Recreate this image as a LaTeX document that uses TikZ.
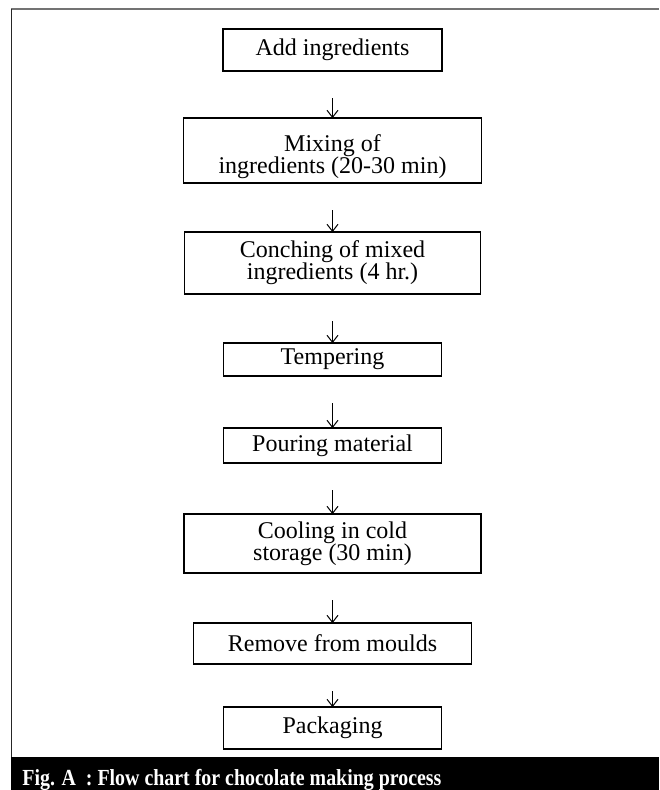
\documentclass[tikz,border=0pt]{standalone}
\usepackage{fontspec}
\setmainfont{Liberation Serif}
\newfontfamily\captionfont[FakeStretch=0.865]{Liberation Serif}
\usetikzlibrary{matrix,arrows.meta}

\begin{document}
\begin{tikzpicture}[every node/.style={font=\fontsize{12pt}{11pt}\selectfont},
	stepbox/.style={draw, line width=0.7pt, align=center, inner sep=0pt, outer sep=0pt, anchor=center},
	flowarrow/.style={-{Straight Barb[length=3.5pt,width=5.5pt]}, line width=0.5pt, shorten <=13.5pt}]
	\useasboundingbox (0,0) rectangle (329.5pt,-395pt);
	% frame and caption bar
	\draw[black!55, line width=1pt] (5.5pt,-4.75pt) -- (329.5pt,-4.75pt);
	\draw[black!85, line width=0.8pt] (5.75pt,-4.75pt) -- (5.75pt,-378.5pt);
	\fill[black] (5.5pt,-378.5pt) rectangle (329.5pt,-395pt);
	\node[anchor=base west, inner sep=0pt, text=white, font=\captionfont\fontsize{11.5pt}{13pt}\bfseries] (caption) at (11pt,-392.5pt) {Fig. A~~: Flow chart for chocolate making process};
	% process steps
	\matrix (chart) [anchor=north, inner sep=0pt, row sep=0pt, nodes={stepbox}] at (166.25pt,-14pt) {
		\node[minimum width=109.5pt, minimum height=21pt] (add) {Add ingredients}; \\[22.8pt]
		\node[minimum width=149pt, minimum height=32.5pt] (mix) {\rule{0pt}{14pt}Mixing of\\ingredients (20-30 min)}; \\[23.8pt]
		\node[minimum width=148pt, minimum height=31pt] (conch) {Conching of mixed\\ingredients (4 hr.)}; \\[23.8pt]
		\node[minimum width=109pt, minimum height=16.5pt] (temper) {Tempering}; \\[25.3pt]
		\node[minimum width=109pt, minimum height=17.5pt] (pour) {Pouring material}; \\[24.8pt]
		\node[minimum width=148.5pt, minimum height=29.5pt] (cool) {Cooling in cold\\storage (30 min)}; \\[24.3pt]
		\node[minimum width=139pt, minimum height=20.5pt] (remove) {Remove from moulds}; \\[20.8pt]
		\node[minimum width=109pt, minimum height=21pt] (pack) {Packaging}; \\
	};
	\foreach \from/\to in {add/mix, mix/conch, conch/temper, temper/pour, pour/cool, cool/remove, remove/pack}
		\draw[flowarrow] (\from) -- (\to);
\end{tikzpicture}
\end{document}
